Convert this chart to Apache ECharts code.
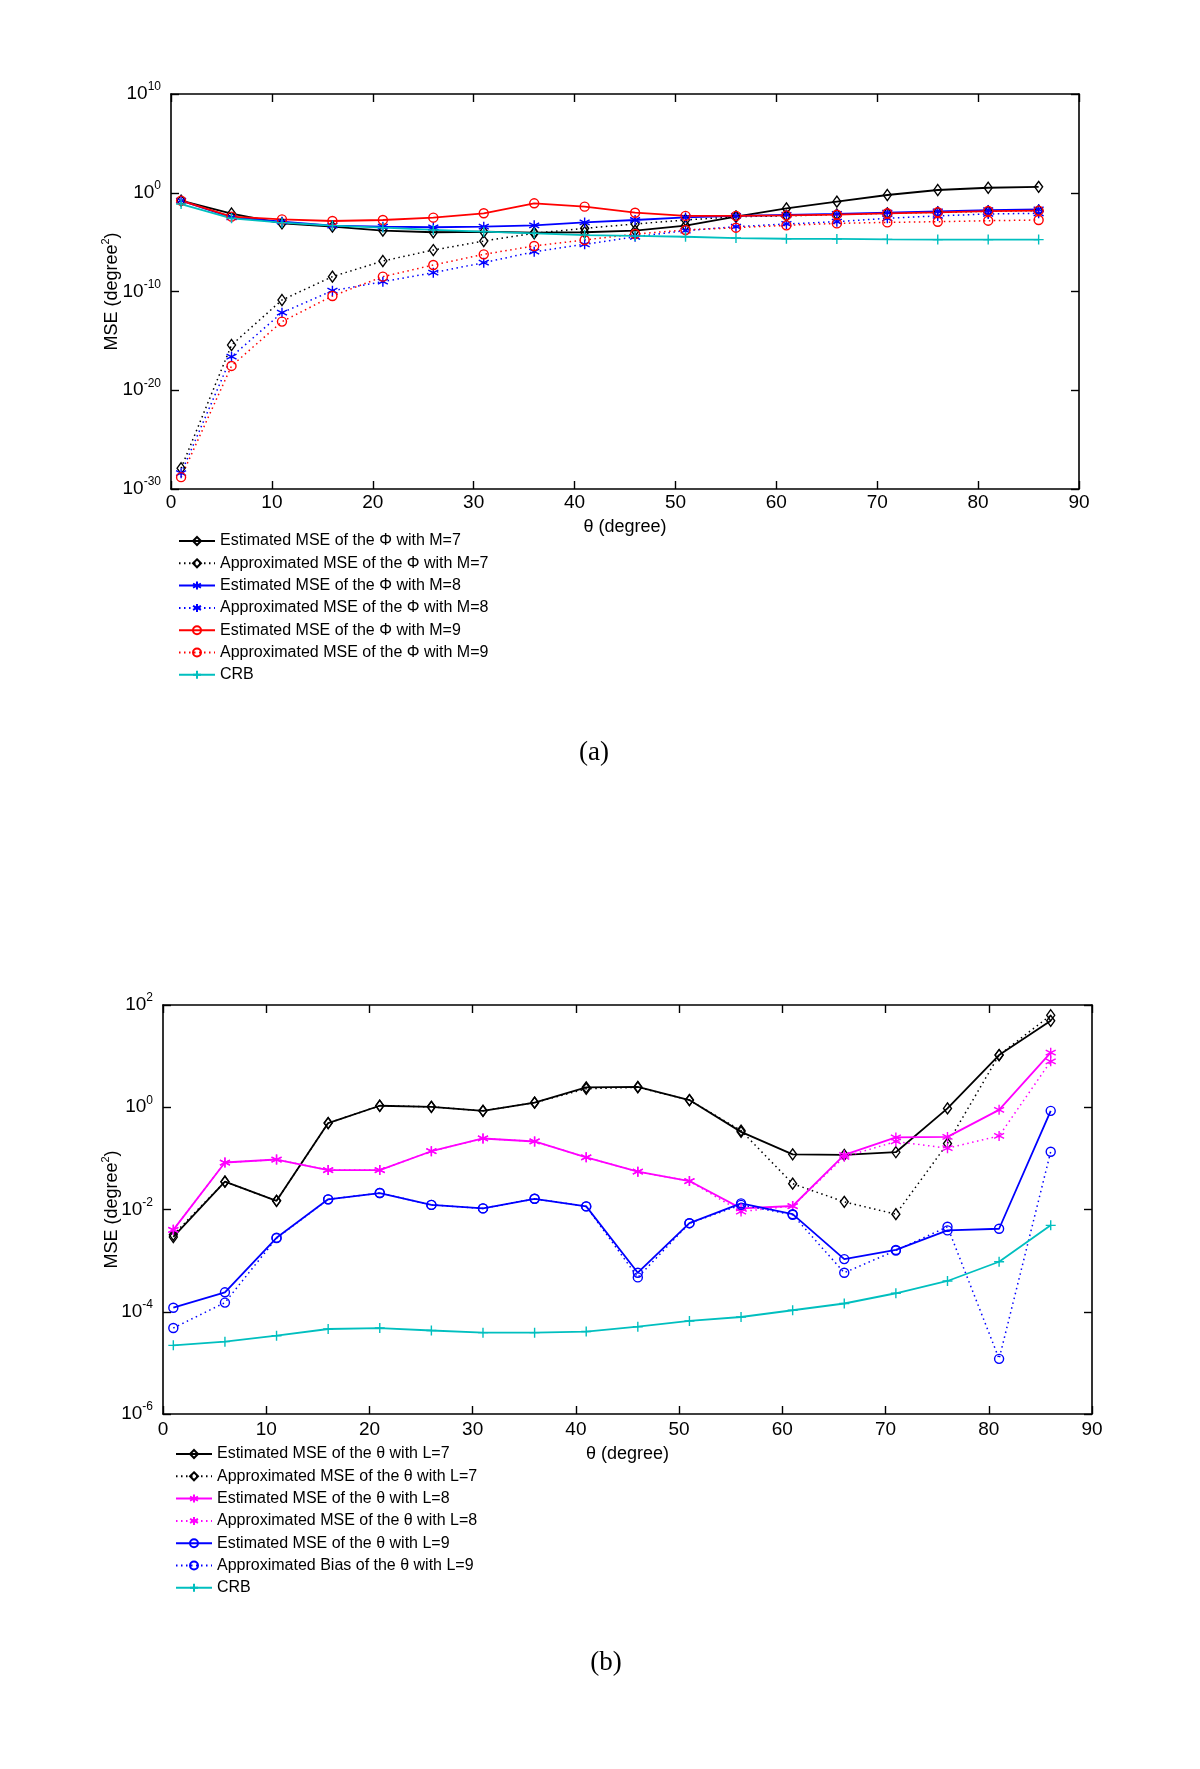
<!DOCTYPE html>
<html>
<head>
<meta charset="utf-8">
<script src="https://cdn.jsdelivr.net/npm/echarts@6/dist/echarts.min.js"></script>
<style>
  html, body { margin: 0; padding: 0; background: #ffffff; }
  #ca { position: absolute; left: 0; top: 0; width: 1200px; height: 800px; }
  #cb { position: absolute; left: 0; top: 800px; width: 1200px; height: 969px; }
</style>
</head>
<body>
<div id="ca"></div>
<div id="cb"></div>
<script>
// ---------- shared x values (theta, degree) ----------
const theta = [1, 6, 11, 16, 21, 26, 31, 36, 41, 46, 51, 56, 61, 66, 71, 76, 81, 86];
const xTicks = [0, 10, 20, 30, 40, 50, 60, 70, 80, 90];

// ---------- chart (a): MSE of Phi ----------
// decade exponents of the y tick labels (10^-30 ... 10^10)
const yTickExpA = [-30, -20, -10, 0, 10];
const estM7 = [1.6e-1, 7.9e-3, 7.9e-4, 3.7e-4, 1.45e-4, 1.0e-4, 1.12e-4, 9.1e-5, 1.0e-4, 1.45e-4, 4.7e-4, 3.8e-3, 2.6e-2, 1.26e-1, 5.9e-1, 1.9, 3.2, 4.0];
const apxM7 = [1.26e-28, 3.8e-16, 1.38e-11, 3.2e-9, 1.23e-7, 1.58e-6, 1.29e-5, 7.9e-5, 2.5e-4, 6.9e-4, 1.74e-3, 3.8e-3, 4.5e-3, 6.3e-3, 8.3e-3, 1.05e-2, 1.32e-2, 1.58e-2];
const estM8 = [1.6e-1, 3.2e-3, 1.17e-3, 4.7e-4, 3.7e-4, 3.2e-4, 3.7e-4, 5.0e-4, 1.0e-3, 1.74e-3, 3.2e-3, 4.5e-3, 5.6e-3, 7.1e-3, 9.5e-3, 1.32e-2, 1.78e-2, 2.1e-2];
const apxM8 = [4.0e-29, 2.5e-17, 7.2e-13, 1.2e-10, 1.0e-9, 8.1e-9, 8.3e-8, 1.07e-6, 6.0e-6, 3.5e-5, 1.45e-4, 3.7e-4, 6.9e-4, 1.17e-3, 2.6e-3, 4.5e-3, 7.1e-3, 8.3e-3];
const estM9 = [1.6e-1, 3.8e-3, 2.0e-3, 1.38e-3, 1.74e-3, 3.0e-3, 8.3e-3, 8.5e-2, 3.9e-2, 9.5e-3, 4.5e-3, 4.5e-3, 5.1e-3, 6.0e-3, 8.3e-3, 1.05e-2, 1.41e-2, 1.55e-2];
const apxM9 = [1.58e-29, 2.9e-18, 8.9e-14, 3.5e-11, 3.2e-9, 4.8e-8, 5.8e-7, 4.1e-6, 1.66e-5, 6.6e-5, 1.7e-4, 2.9e-4, 5.0e-4, 7.9e-4, 1.0e-3, 1.17e-3, 1.48e-3, 1.74e-3];
const crbA  = [7.2e-2, 2.6e-3, 9.3e-4, 4.7e-4, 2.9e-4, 1.7e-4, 1.15e-4, 7.8e-5, 5.2e-5, 4.2e-5, 3.5e-5, 2.6e-5, 2.2e-5, 2.1e-5, 1.9e-5, 1.8e-5, 1.8e-5, 1.8e-5];
const namesA = [
  'Estimated MSE of the \u03A6 with M=7',
  'Approximated MSE of the \u03A6 with M=7',
  'Estimated MSE of the \u03A6 with M=8',
  'Approximated MSE of the \u03A6 with M=8',
  'Estimated MSE of the \u03A6 with M=9',
  'Approximated MSE of the \u03A6 with M=9',
  'CRB'
];

// ---------- chart (b): MSE of theta ----------
const yTickExpB = [-6, -4, -2, 0, 2];
const estL7 = [2.9e-3, 3.5e-2, 1.48e-2, 0.49, 1.07, 1.02, 0.85, 1.23, 2.45, 2.5, 1.38, 0.33, 0.12, 0.117, 0.132, 0.95, 10.5, 49];
const apxL7 = [3.2e-3, 3.5e-2, 1.48e-2, 0.49, 1.07, 1.02, 0.85, 1.23, 2.3, 2.45, 1.38, 0.35, 3.2e-2, 1.41e-2, 8.1e-3, 0.195, 10.5, 63];
const estL8 = [4.0e-3, 8.3e-2, 9.5e-2, 5.9e-2, 5.9e-2, 0.138, 0.245, 0.214, 0.105, 5.5e-2, 3.6e-2, 1.05e-2, 1.17e-2, 0.117, 0.257, 0.263, 0.89, 11.7];
const apxL8 = [4.0e-3, 8.3e-2, 9.5e-2, 5.9e-2, 5.9e-2, 0.138, 0.245, 0.214, 0.105, 5.5e-2, 3.6e-2, 9.1e-3, 1.17e-2, 0.107, 0.214, 0.158, 0.275, 7.9];
const estL9 = [1.2e-4, 2.4e-4, 2.8e-3, 1.58e-2, 2.1e-2, 1.23e-2, 1.05e-2, 1.62e-2, 1.15e-2, 5.8e-4, 5.4e-3, 1.32e-2, 8.1e-3, 1.07e-3, 1.62e-3, 3.9e-3, 4.2e-3, 0.85];
const apxL9 = [4.8e-5, 1.51e-4, 2.75e-3, 1.58e-2, 2.1e-2, 1.23e-2, 1.05e-2, 1.62e-2, 1.15e-2, 4.7e-4, 5.4e-3, 1.23e-2, 7.9e-3, 5.8e-4, 1.58e-3, 4.6e-3, 1.2e-5, 0.135];
const crbB  = [2.2e-5, 2.6e-5, 3.4e-5, 4.6e-5, 4.8e-5, 4.3e-5, 3.9e-5, 3.9e-5, 4.1e-5, 5.1e-5, 6.6e-5, 7.9e-5, 1.07e-4, 1.45e-4, 2.3e-4, 4.0e-4, 9.5e-4, 4.9e-3];
const namesB = [
  'Estimated MSE of the \u03B8 with L=7',
  'Approximated MSE of the \u03B8 with L=7',
  'Estimated MSE of the \u03B8 with L=8',
  'Approximated MSE of the \u03B8 with L=8',
  'Estimated MSE of the \u03B8 with L=9',
  'Approximated Bias of the \u03B8 with L=9',
  'CRB'
];

// ---------- styling helpers ----------
const FONT = 'Liberation Sans, Arial, sans-serif';
const SERIF = 'Liberation Serif, Times New Roman, serif';
const SYM = {
  diamond: 'diamond',
  circle: 'circle',
  star: 'path://M5,0L5,10M0.7,2.5L9.3,7.5M0.7,7.5L9.3,2.5',
  plus: 'path://M5,0L5,10M0,5L10,5'
};
const SIZE = { diamond: [8, 11], circle: 9, star: 10, plus: 10 };

// The y axes are decade (log10) axes: each value is placed on the axis by its base-10 logarithm,
// because ECharts' log scale rounds a 1e-30 end tick to 0 and loses the bottom label.
function mk(name, vals, color, sym, dotted) {
  return {
    type: 'line',
    name: name,
    data: theta.map((t, i) => [t, Math.log10(vals[i])]),
    symbol: SYM[sym],
    symbolSize: SIZE[sym],
    showSymbol: true,
    clip: false,
    animation: false,
    lineStyle: { color: color, width: dotted ? 1.5 : 1.8, type: dotted ? [1.5, 3.5] : 'solid' },
    itemStyle: { color: 'rgba(255,255,255,0)', borderColor: color, borderWidth: 1.4 },
    emphasis: { disabled: true }
  };
}

function supLabel(e) {
  return '{b|10}{s|' + Math.round(e) + '}';
}
const supRich = {
  b: { fontSize: 19, lineHeight: 26, fontFamily: FONT, color: '#000' },
  s: { fontSize: 12, lineHeight: 12, verticalAlign: 'top', fontFamily: FONT, color: '#000' }
};

function axes(yExp, xNameGap, xLabMargin, yLabMargin) {
  const common = {
    axisLine: { show: true, onZero: false, lineStyle: { color: '#000', width: 1.6 } },
    axisTick: { show: true, inside: true, length: 8, lineStyle: { color: '#000', width: 1.4 } },
    splitLine: { show: false },
    minorTick: { show: false }
  };
  const xBase = {
    type: 'value', min: xTicks[0], max: xTicks[xTicks.length - 1], interval: xTicks[1] - xTicks[0]
  };
  const yBase = {
    type: 'value', min: yExp[0], max: yExp[yExp.length - 1], interval: yExp[1] - yExp[0]
  };
  return {
    xAxis: [
      Object.assign({}, xBase, common, {
        position: 'bottom',
        name: '\u03B8 (degree)', nameLocation: 'middle', nameGap: xNameGap,
        nameTextStyle: { fontSize: 18, fontFamily: FONT, color: '#000' },
        axisLabel: { show: true, margin: xLabMargin, fontSize: 19, fontFamily: FONT, color: '#000',
                     showMinLabel: true, showMaxLabel: true, hideOverlap: false }
      }),
      Object.assign({}, xBase, common, { position: 'top', axisLabel: { show: false } })
    ],
    yAxis: [
      Object.assign({}, yBase, common, {
        position: 'left',
        axisLabel: { show: true, margin: yLabMargin, formatter: supLabel, rich: supRich,
                     showMinLabel: true, showMaxLabel: true, hideOverlap: false }
      }),
      Object.assign({}, yBase, common, { position: 'right', axisLabel: { show: false } })
    ]
  };
}

function legend(names, left, top) {
  return {
    orient: 'vertical', left: left, top: top, padding: 0,
    itemWidth: 36, itemHeight: 10, itemGap: 4.3,
    selectedMode: false,
    data: names,
    textStyle: { fontSize: 16, lineHeight: 18, fontFamily: FONT, color: '#000' }
  };
}

function yTitle(x, y) {
  return {
    type: 'text', x: x, y: y, rotation: Math.PI / 2, z: 10,
    style: {
      text: '{a|MSE (degree}{s|2}{a|)}',
      align: 'center', verticalAlign: 'middle',
      fill: '#000',
      rich: {
        a: { fontSize: 18, lineHeight: 24, fontFamily: FONT, fill: '#000' },
        s: { fontSize: 11, lineHeight: 11, verticalAlign: 'top', fontFamily: FONT, fill: '#000' }
      }
    }
  };
}

function caption(txt, x, y) {
  return {
    type: 'text', x: x, y: y, z: 10,
    style: { text: txt, fontSize: 27, fontFamily: SERIF, fill: '#000', align: 'center', verticalAlign: 'middle' }
  };
}

// ---------- chart (a) ----------
const chartA = echarts.init(document.getElementById('ca'), null, { renderer: 'canvas' });
const axA = axes(yTickExpA, 29, 4, 10);
chartA.setOption({
  backgroundColor: '#ffffff',
  animation: false,
  grid: { left: 171, top: 94, width: 908, height: 395, outerBoundsMode: 'none', containLabel: false },
  xAxis: axA.xAxis,
  yAxis: axA.yAxis,
  legend: legend(namesA, 178, 532),
  series: [
    mk(namesA[0], estM7, '#000000', 'diamond', false),
    mk(namesA[1], apxM7, '#000000', 'diamond', true),
    mk(namesA[2], estM8, '#0000ff', 'star', false),
    mk(namesA[3], apxM8, '#0000ff', 'star', true),
    mk(namesA[4], estM9, '#ff0000', 'circle', false),
    mk(namesA[5], apxM9, '#ff0000', 'circle', true),
    mk(namesA[6], crbA, '#00bfbf', 'plus', false)
  ],
  graphic: [yTitle(112, 291.5), caption('(a)', 594, 753)]
});

// ---------- chart (b) ----------
const chartB = echarts.init(document.getElementById('cb'), null, { renderer: 'canvas' });
const axB = axes(yTickExpB, 31, 6, 10);
chartB.setOption({
  backgroundColor: '#ffffff',
  animation: false,
  grid: { left: 163, top: 205, width: 929, height: 409, outerBoundsMode: 'none', containLabel: false },
  xAxis: axB.xAxis,
  yAxis: axB.yAxis,
  legend: legend(namesB, 175, 645),
  series: [
    mk(namesB[0], estL7, '#000000', 'diamond', false),
    mk(namesB[1], apxL7, '#000000', 'diamond', true),
    mk(namesB[2], estL8, '#ff00ff', 'star', false),
    mk(namesB[3], apxL8, '#ff00ff', 'star', true),
    mk(namesB[4], estL9, '#0000ff', 'circle', false),
    mk(namesB[5], apxL9, '#0000ff', 'circle', true),
    mk(namesB[6], crbB, '#00bfbf', 'plus', false)
  ],
  graphic: [yTitle(112, 409.5), caption('(b)', 606, 863)]
});
</script>
</body>
</html>
